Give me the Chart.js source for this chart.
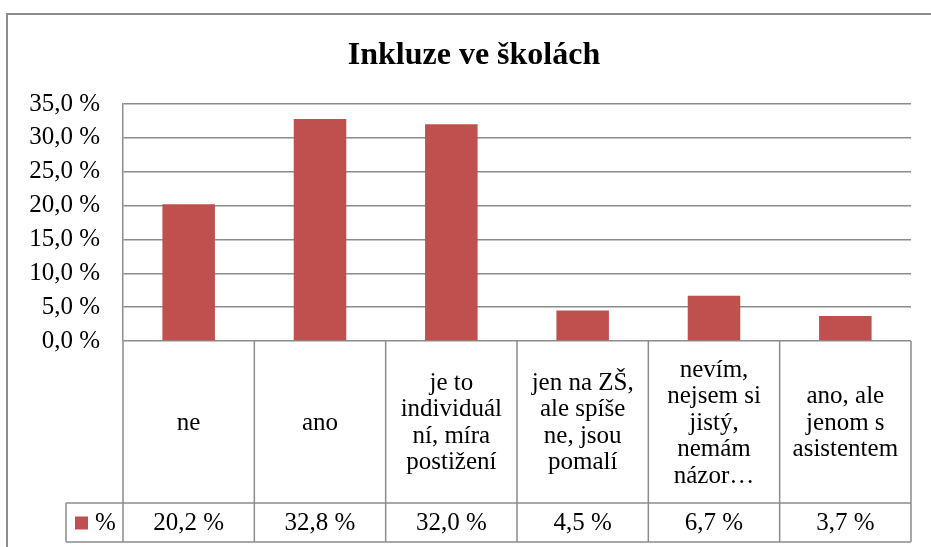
<!DOCTYPE html>
<html>
<head>
<meta charset="utf-8">
<script src="https://cdn.jsdelivr.net/npm/chart.js@4"></script>
<style>
  html, body { margin: 0; padding: 0; background: #fff; }
  #wrap { width: 931px; height: 547px; }
</style>
</head>
<body>
<div id="wrap"><canvas id="graf"></canvas></div>
<script>
const titulek = 'Inkluze ve školách';
const kategorie = [
  ['ne'],
  ['ano'],
  ['je to', 'individuál', 'ní, míra', 'postižení'],
  ['jen na ZŠ,', 'ale spíše', 'ne, jsou', 'pomalí'],
  ['nevím,', 'nejsem si', 'jistý,', 'nemám', 'názor…'],
  ['ano, ale', 'jenom s', 'asistentem']
];
const hodnoty = [20.2, 32.8, 32.0, 4.5, 6.7, 3.7];
const nazevRady = '%';

const CERVENA = '#C0504D';
const SEDA = '#8C8C8C';
const PISMO = '"Liberation Serif", "Times New Roman", serif';

function formatProcent(v) {
  return v.toFixed(1).replace('.', ',') + ' %';
}

const tabulkaPlugin = {
  id: 'tabulka',
  beforeDraw(chart) {
    const ctx = chart.ctx;
    ctx.save();
    ctx.fillStyle = '#fff';
    ctx.fillRect(0, 0, chart.width, chart.height);
    ctx.strokeStyle = SEDA;
    ctx.lineWidth = 2;
    ctx.beginPath();
    ctx.moveTo(7, chart.height);
    ctx.lineTo(7, 14);
    ctx.lineTo(chart.width, 14);
    ctx.stroke();
    ctx.fillStyle = '#000';
    ctx.font = 'bold 32px ' + PISMO;
    ctx.textAlign = 'center';
    ctx.textBaseline = 'alphabetic';
    ctx.fillText(titulek, 474, 64);
    ctx.restore();
  },
  afterDraw(chart) {
    const ctx = chart.ctx;
    const a = chart.chartArea;
    const n = kategorie.length;
    const sirka = (a.right - a.left) / n;
    const radekHodnot = 503;
    const spodek = 542;
    const klicLevo = 66;
    ctx.save();
    ctx.strokeStyle = SEDA;
    ctx.lineWidth = 1.5;
    ctx.beginPath();
    for (let i = 0; i <= n; i++) {
      const x = a.left + i * sirka;
      ctx.moveTo(x, a.bottom);
      ctx.lineTo(x, spodek);
    }
    ctx.moveTo(klicLevo, radekHodnot);
    ctx.lineTo(a.right, radekHodnot);
    ctx.moveTo(klicLevo, spodek);
    ctx.lineTo(a.right, spodek);
    ctx.moveTo(klicLevo, radekHodnot);
    ctx.lineTo(klicLevo, spodek);
    ctx.stroke();

    ctx.fillStyle = '#000';
    ctx.font = '25px ' + PISMO;
    ctx.textAlign = 'center';
    ctx.textBaseline = 'middle';
    const vyskaRadku = 26.5;
    const stredPopisu = (a.bottom + radekHodnot) / 2 + 1;
    const stredHodnot = (radekHodnot + spodek) / 2 + 1;
    for (let i = 0; i < n; i++) {
      const cx = a.left + (i + 0.5) * sirka;
      const radky = kategorie[i];
      const y0 = stredPopisu - (radky.length - 1) * vyskaRadku / 2;
      radky.forEach((t, j) => ctx.fillText(t, cx, y0 + j * vyskaRadku));
      ctx.fillText(formatProcent(hodnoty[i]), cx, stredHodnot);
    }
    ctx.fillStyle = CERVENA;
    ctx.fillRect(75, stredHodnot - 7, 13, 13);
    ctx.fillStyle = '#000';
    ctx.textAlign = 'left';
    ctx.fillText(nazevRady, 95, stredHodnot);
    ctx.restore();
  }
};

new Chart(document.getElementById('graf'), {
  type: 'bar',
  data: {
    labels: kategorie.map(k => k.join(' ')),
    datasets: [{
      label: nazevRady,
      data: hodnoty,
      backgroundColor: CERVENA,
      borderWidth: 0,
      categoryPercentage: 1,
      barPercentage: 0.4
    }]
  },
  options: {
    responsive: true,
    maintainAspectRatio: false,
    animation: false,
    layout: { padding: { left: 0, right: 20, top: 104, bottom: 206 } },
    plugins: {
      legend: { display: false },
      title: { display: false },
      tooltip: { enabled: false }
    },
    scales: {
      x: { display: false },
      y: {
        min: 0,
        max: 35,
        afterFit(scale) { scale.width = 123; },
        ticks: {
          stepSize: 5,
          padding: 23,
          color: '#000',
          font: { family: PISMO, size: 25 },
          callback: v => formatProcent(v)
        },
        grid: { color: SEDA, lineWidth: 1.5, drawTicks: false },
        border: { display: true, color: SEDA, width: 1.5 }
      }
    }
  },
  plugins: [tabulkaPlugin]
});
</script>
</body>
</html>
